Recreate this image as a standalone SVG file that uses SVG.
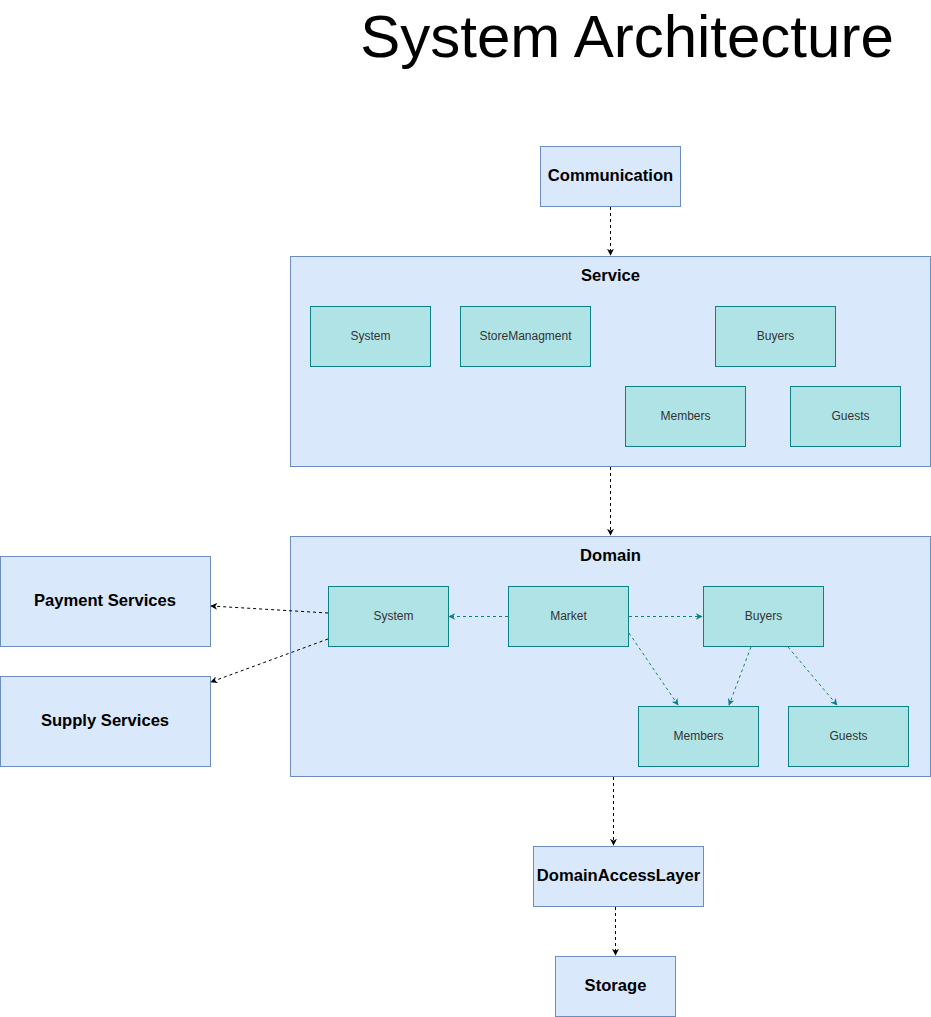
<svg xmlns="http://www.w3.org/2000/svg" width="931" height="1017" viewBox="0 0 931 1017">
<defs>
<style>
.l{fill:#dae8fc;stroke:#6c8ebf;stroke-width:1}
.t{fill:#b0e3e6;stroke:#0e8088;stroke-width:1}
.b{font-family:"Liberation Sans",Arial,sans-serif;font-size:16.6px;font-weight:bold;fill:#000;text-anchor:middle}
.s{font-family:"Liberation Sans",Arial,sans-serif;font-size:12px;fill:#333;text-anchor:middle}
.ck{fill:none;stroke:#000;stroke-dasharray:3 3}
.ct{fill:none;stroke:#0e8088;stroke-dasharray:3 3}
</style>
<marker id="ak" viewBox="0 0 10 10" refX="9" refY="5" markerWidth="7" markerHeight="7" orient="auto" markerUnits="userSpaceOnUse"><path d="M0,0 L10,5 L0,10 L3,5 z" fill="#000"/></marker>
<marker id="at" viewBox="0 0 10 10" refX="9" refY="5" markerWidth="7" markerHeight="7" orient="auto" markerUnits="userSpaceOnUse"><path d="M0,0 L10,5 L0,10 L3,5 z" fill="#0e8088"/></marker>
</defs>
<rect width="931" height="1017" fill="#fff"/>
<text x="627" y="57" font-family="Liberation Sans,Arial,sans-serif" font-size="60" text-anchor="middle" fill="#000">System Architecture</text>

<g id="communication"><rect class="l" x="540.5" y="146.5" width="140" height="60"/><text class="b" x="610.5" y="181">Communication</text></g>
<g id="service"><rect class="l" x="290.5" y="256.5" width="640" height="210"/><text class="b" x="610.5" y="281">Service</text></g>
<g id="svc-system"><rect class="t" x="310.5" y="306.5" width="120" height="60"/><text class="s" x="370.5" y="340">System</text></g>
<g id="svc-store"><rect class="t" x="460.5" y="306.5" width="130" height="60"/><text class="s" x="525.5" y="340">StoreManagment</text></g>
<g id="svc-buyers"><rect class="t" x="715.5" y="306.5" width="120" height="60"/><text class="s" x="775.5" y="340">Buyers</text></g>
<g id="svc-members"><rect class="t" x="625.5" y="386.5" width="120" height="60"/><text class="s" x="685.5" y="420">Members</text></g>
<g id="svc-guests"><rect class="t" x="790.5" y="386.5" width="110" height="60"/><text class="s" x="850.5" y="420">Guests</text></g>

<g id="domain"><rect class="l" x="290.5" y="536.5" width="640" height="240"/><text class="b" x="610.5" y="561">Domain</text></g>
<g id="dom-system"><rect class="t" x="328.5" y="586.5" width="120" height="60"/><text class="s" x="393.5" y="620">System</text></g>
<g id="dom-market"><rect class="t" x="508.5" y="586.5" width="120" height="60"/><text class="s" x="568.5" y="620">Market</text></g>
<g id="dom-buyers"><rect class="t" x="703.5" y="586.5" width="120" height="60"/><text class="s" x="763.5" y="620">Buyers</text></g>
<g id="dom-members"><rect class="t" x="638.5" y="706.5" width="120" height="60"/><text class="s" x="698.5" y="740">Members</text></g>
<g id="dom-guests"><rect class="t" x="788.5" y="706.5" width="120" height="60"/><text class="s" x="848.5" y="740">Guests</text></g>

<g id="payment"><rect class="l" x="0.5" y="556.5" width="210" height="90"/><text class="b" x="105" y="606">Payment Services</text></g>
<g id="supply"><rect class="l" x="0.5" y="676.5" width="210" height="90"/><text class="b" x="105" y="726">Supply Services</text></g>
<g id="dal"><rect class="l" x="533.5" y="846.5" width="170" height="60"/><text class="b" x="618.5" y="881">DomainAccessLayer</text></g>
<g id="storage"><rect class="l" x="555.5" y="956.5" width="120" height="60"/><text class="b" x="615.5" y="991">Storage</text></g>

<g id="connectors">
<line class="ck" x1="610.5" y1="207" x2="610.5" y2="255" marker-end="url(#ak)"/>
<line class="ck" x1="610.5" y1="467" x2="610.5" y2="535" marker-end="url(#ak)"/>
<line class="ck" x1="613.5" y1="777" x2="613.5" y2="845" marker-end="url(#ak)"/>
<line class="ck" x1="615.5" y1="907" x2="615.5" y2="955" marker-end="url(#ak)"/>
<line class="ck" x1="328" y1="613" x2="211" y2="606" marker-end="url(#ak)"/>
<line class="ck" x1="328" y1="639" x2="211" y2="682" marker-end="url(#ak)"/>
<line class="ct" x1="508" y1="616.5" x2="449" y2="616.5" marker-end="url(#at)"/>
<line class="ct" x1="629" y1="616.5" x2="702" y2="616.5" marker-end="url(#at)"/>
<line class="ct" x1="629" y1="633" x2="678" y2="705" marker-end="url(#at)"/>
<line class="ct" x1="751" y1="647" x2="729" y2="705" marker-end="url(#at)"/>
<line class="ct" x1="788" y1="647" x2="837" y2="705" marker-end="url(#at)"/>
</g>
</svg>
